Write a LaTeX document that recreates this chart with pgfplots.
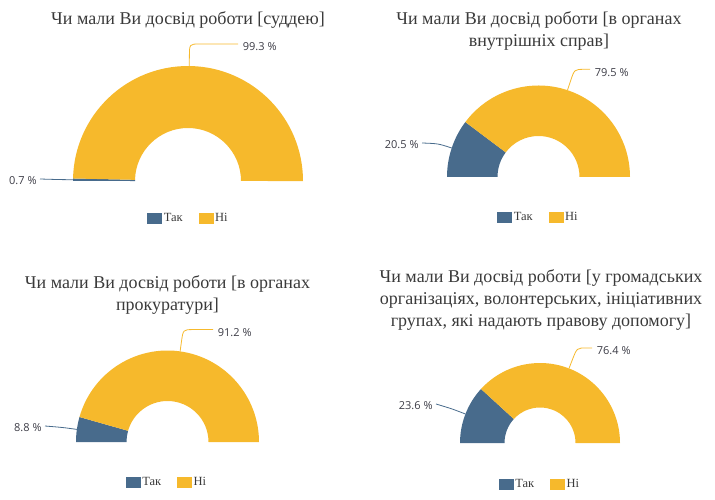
\documentclass[border=0pt]{standalone}
\usepackage{fontspec}
\setmainfont{Liberation Serif}
\newfontfamily\lblfont{Open Sans}
\usepackage{pgfplots}
\pgfplotsset{compat=1.18}

\definecolor{tak}{HTML}{486B8C}
\definecolor{ni}{HTML}{F6B92C}
\definecolor{ttlcol}{HTML}{3A3A3A}
\definecolor{lbl}{HTML}{3C3C46}

% one shared canvas: 1 unit = 1pt, the whole sheet
\pgfplotsset{
  canvas/.style={
    x=1pt, y=1pt, xmin=0, xmax=715, ymin=0, ymax=499,
    hide axis, clip=false, scale only axis,
    at={(0,0)}, anchor=south west,
    legend columns=2,
    legend style={draw=none, fill=none, inner sep=0pt,
      font=\fontsize{12.5}{14}\selectfont\color{ttlcol},
      cells={anchor=west},
      /tikz/every even column/.append style={column sep=14pt}},
  },
}
\tikzset{titleline/.style={font=\fontsize{18}{21}\selectfont, text=ttlcol, anchor=base, inner sep=0pt}}

% half donut: centre x, centre y, outer R, inner r, share "Так", share "Ні"
\newcommand{\donut}[6]{%
  \fill[tak] (axis cs:{#1-#3},#2)
     arc[start angle=180, end angle={180-1.8*#5}, radius=#3]
     -- (axis cs:{#1+#4*cos(180-1.8*#5)},{#2+#4*sin(180-1.8*#5)})
     arc[start angle={180-1.8*#5}, end angle=180, radius=#4] -- cycle;
  \fill[ni] (axis cs:{#1+#3*cos(180-1.8*#5)},{#2+#3*sin(180-1.8*#5)})
     arc[start angle={180-1.8*#5}, end angle=0, radius=#3]
     -- (axis cs:{#1+#4},#2)
     arc[start angle=0, end angle={180-1.8*#5}, radius=#4] -- cycle;
}
% label of the "Ні" slice: cx, cy, R, yes, no, end of the leader (x)
\newcommand{\nilabel}[6]{%
  \draw[ni, line width=0.8pt]
    (axis cs:{#1+#3*cos(180-1.8*(#4+#5/2))},{#2+#3*sin(180-1.8*(#4+#5/2))})
    -- (axis cs:{#1+(#3+10)*cos(180-1.8*(#4+#5/2))},{#2+(#3+10)*sin(180-1.8*(#4+#5/2))})
    .. controls (axis cs:{#1+(#3+22)*cos(180-1.8*(#4+#5/2))},{#2+(#3+22)*sin(180-1.8*(#4+#5/2))})
    .. (axis cs:{#1+(#3+22)*cos(180-1.8*(#4+#5/2))+10},{#2+(#3+22)*sin(180-1.8*(#4+#5/2))})
    -- (axis cs:#6,{#2+(#3+22)*sin(180-1.8*(#4+#5/2))})
    node[anchor=west, yshift=-3pt, inner sep=4.5pt, text=lbl,
         font=\lblfont\fontsize{11}{13}\selectfont] {#5 \%};
}
% label of the "Так" slice: cx, cy, R, yes, leader end x, leader end y
\newcommand{\taklabel}[6]{%
  \draw[tak, line width=0.8pt]
    (axis cs:{#1+#3*cos(180-0.9*#4)},{#2+#3*sin(180-0.9*#4)})
    .. controls (axis cs:{#1+(#3+14)*cos(180-0.9*#4)},{#2+(#3+14)*sin(180-0.9*#4)})
    .. (axis cs:#5,#6)
    node[anchor=east, yshift=-2pt, inner sep=3pt, text=lbl,
         font=\lblfont\fontsize{11}{13}\selectfont] {#4 \%};
}
\newcommand{\legendpair}{%
  \addlegendimage{legend image code/.code={\fill[tak] (0pt,-5pt) rectangle (14pt,5pt);}}
  \addlegendentry{Так}
  \addlegendimage{legend image code/.code={\fill[ni] (0pt,-5pt) rectangle (14pt,5pt);}}
  \addlegendentry{Ні}
}

\begin{document}
\begin{tikzpicture}
% --- суддею ---
\begin{axis}[canvas, legend style={at={(axis cs:188.5,281)}, anchor=center}]
  \path (axis cs:0,0) rectangle (axis cs:715,499);
  \legendpair
  \donut{188}{318}{115}{53}{0.7}{99.3}
  \nilabel{188}{318}{115}{0.7}{99.3}{238}
  \taklabel{188}{318}{115}{0.7}{40}{320}
  \node[titleline] at (axis cs:188,474) {Чи мали Ви досвід роботи [суддею]};
\end{axis}
% --- органи внутрішніх справ ---
\begin{axis}[canvas, legend style={at={(axis cs:538.5,282)}, anchor=center}]
  \legendpair
  \donut{538.5}{322}{91.5}{41}{20.5}{79.5}
  \nilabel{538.5}{322}{91.5}{20.5}{79.5}{590}
  \taklabel{538.5}{322}{91.5}{20.5}{422}{356}
  \node[titleline] at (axis cs:539,474) {Чи мали Ви досвід роботи [в органах};
  \node[titleline] at (axis cs:539,452) {внутрішніх справ]};
\end{axis}
% --- органи прокуратури ---
\begin{axis}[canvas, legend style={at={(axis cs:167,17)}, anchor=center}]
  \legendpair
  \donut{167.5}{57}{91.5}{41}{8.8}{91.2}
  \nilabel{167.5}{57}{91.5}{8.8}{91.2}{213}
  \taklabel{167.5}{57}{91.5}{8.8}{45}{73}
  \node[titleline] at (axis cs:167.5,211) {Чи мали Ви досвід роботи [в органах};
  \node[titleline] at (axis cs:167.5,189) {прокуратури]};
\end{axis}
% --- громадські організації ---
\begin{axis}[canvas, legend style={at={(axis cs:540,15)}, anchor=center}]
  \legendpair
  \donut{540}{56}{80}{35.5}{23.6}{76.4}
  \nilabel{540}{56}{80}{23.6}{76.4}{592}
  \taklabel{540}{56}{80}{23.6}{436}{95}
  \node[titleline] at (axis cs:541,217) {Чи мали Ви досвід роботи [у громадських};
  \node[titleline] at (axis cs:541,195) {організаціях, волонтерських, ініціативних};
  \node[titleline] at (axis cs:541,173) {групах, які надають правову допомогу]};
\end{axis}
\end{tikzpicture}
\end{document}
